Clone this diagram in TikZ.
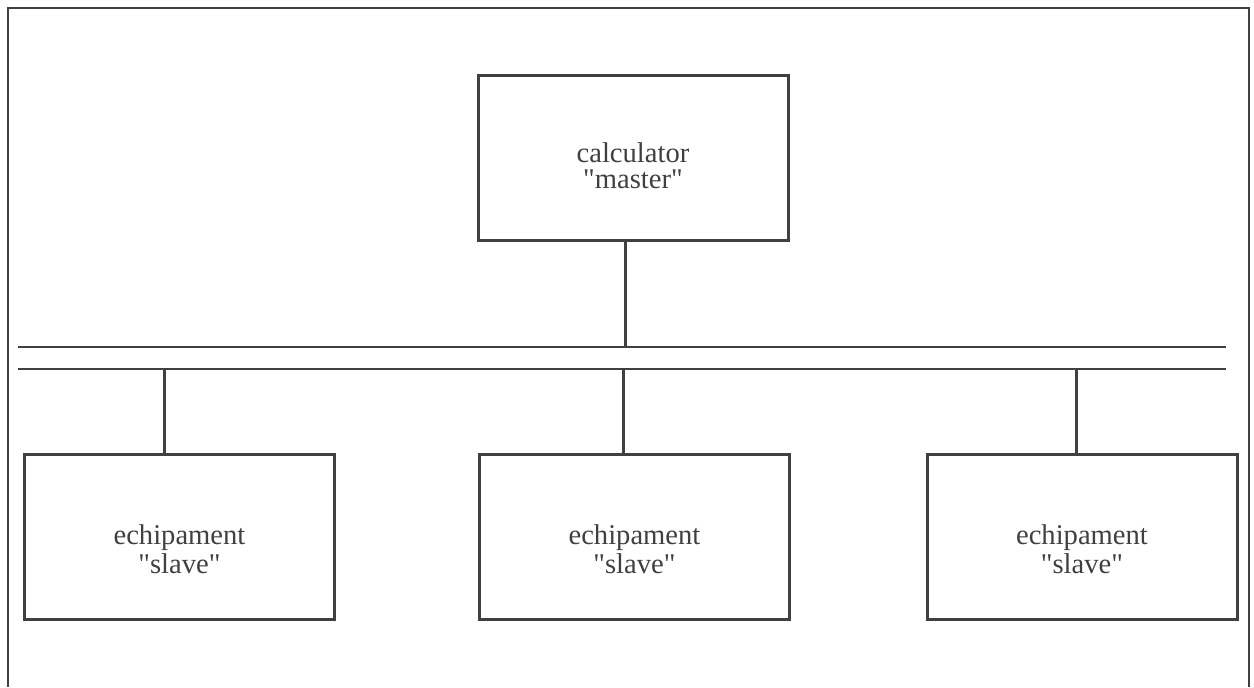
\documentclass[tikz,border=0pt]{standalone}
\usepackage{fontspec}
\setmainfont{Liberation Serif}
\usetikzlibrary{positioning}

\tikzset{
    unitbox/.style = {draw, line width = 1.5pt, minimum width = 155pt, minimum height = 82.5pt,
                      align = center, inner sep = 0pt},
    masterbox/.style = {unitbox, text height = 31pt, text depth = 0.5pt,
                        font = \fontsize{14.3}{13}\selectfont},
    slavebox/.style = {unitbox, text height = 37pt, text depth = 0.5pt,
                       font = \fontsize{14.3}{14.5}\selectfont},
    busline/.style = {line width = 1pt},
}

\newcommand{\qt}[1]{\textquotedbl#1\textquotedbl}

\begin{document}
\begin{tikzpicture}[x = 0.5pt, y = -0.5pt, black!75, line width = 1.5pt]

    \useasboundingbox (0,0) rectangle (1254,687);

    % frame, open at the bottom
    \draw[line width = 1.3pt] (8,687) -- (8,8) -- (1249,8) -- (1249,687);

    \def\busA{347}
    \def\busB{369}

    \coordinate (busAl) at (18,\busA);
    \coordinate (busAr) at (1226,\busA);
    \coordinate (busBl) at (18,\busB);
    \coordinate (busBr) at (1226,\busB);

    \draw[busline] (busAl) -- (busAr);
    \draw[busline] (busBl) -- (busBr);

    \node[masterbox] (master) at (633,157.5) {calculator\\\qt{master}};

    \node[slavebox] (slaveA) at (179.5,536.5) {echipament\\\qt{slave}};
    \node[slavebox] (slaveB) at (634.5,536.5) {echipament\\\qt{slave}};
    \node[slavebox] (slaveC) at (1082,536.5) {echipament\\\qt{slave}};

    \draw ([xshift = -4]master.south) -- ([xshift = -4]master.south |- busAl);
    \foreach \unit/\dx in {slaveA/-7.5, slaveB/-5.5, slaveC/-3}
        \draw ([xshift = \dx]\unit.north) -- ([xshift = \dx]\unit.north |- busBl);

\end{tikzpicture}
\end{document}
